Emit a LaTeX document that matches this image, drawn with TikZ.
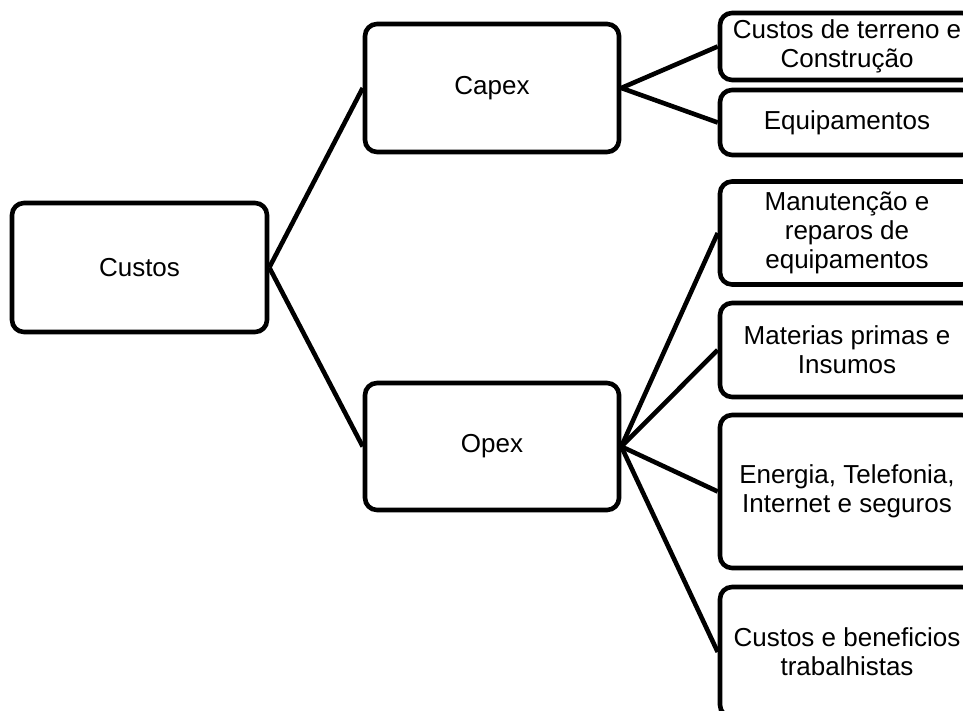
\documentclass[tikz,border=0pt]{standalone}
\usepackage{fontspec}
\setmainfont{Liberation Sans}
\begin{document}
\begin{tikzpicture}[x=1pt,y=-1pt,
  box/.style={draw=black, line width=4.6pt, rounded corners=12pt, fill=white,
    align=center, inner sep=0pt, font=\fontsize{26}{29}\selectfont},
  conn/.style={draw=black, line width=4.6pt}]
\useasboundingbox (0,0) rectangle (963,711);
\clip (0,0) rectangle (963,711);
\fill[white] (0,0) rectangle (963,711);
% nodes
\node[box, minimum width=255pt, minimum height=129pt] (custos) at (139.5,267.5) {Custos};
\node[box, minimum width=254pt, minimum height=128pt] (capex) at (492,88) {Capex};
\node[box, minimum width=254pt, minimum height=127pt] (opex) at (492,446.5) {Opex};
\node[box, minimum width=254pt, minimum height=67pt] (terreno) at (847,46.5) {Custos de terreno e\\Construção};
\node[box, minimum width=254pt, minimum height=65pt] (equip) at (847,122.5) {Equipamentos};
\node[box, minimum width=254pt, minimum height=103pt] (manut) at (847,233) {Manutenção e\\reparos de\\equipamentos};
\node[box, minimum width=254pt, minimum height=94pt] (mater) at (847,350) {Materias primas e\\Insumos};
\node[box, minimum width=254pt, minimum height=153pt] (energ) at (847,491.5) {Energia, Telefonia,\\Internet e seguros};
\node[box, minimum width=254pt, minimum height=130pt] (benef) at (847,652) {Custos e beneficios\\trabalhistas};
% connectors
\draw[conn] (custos.east) -- (capex.west);
\draw[conn] (custos.east) -- (opex.west);
\draw[conn] (capex.east) -- (terreno.west);
\draw[conn] (capex.east) -- (equip.west);
\draw[conn] (opex.east) -- (manut.west);
\draw[conn] (opex.east) -- (mater.west);
\draw[conn] (opex.east) -- (energ.west);
\draw[conn] (opex.east) -- (benef.west);
\end{tikzpicture}
\end{document}
